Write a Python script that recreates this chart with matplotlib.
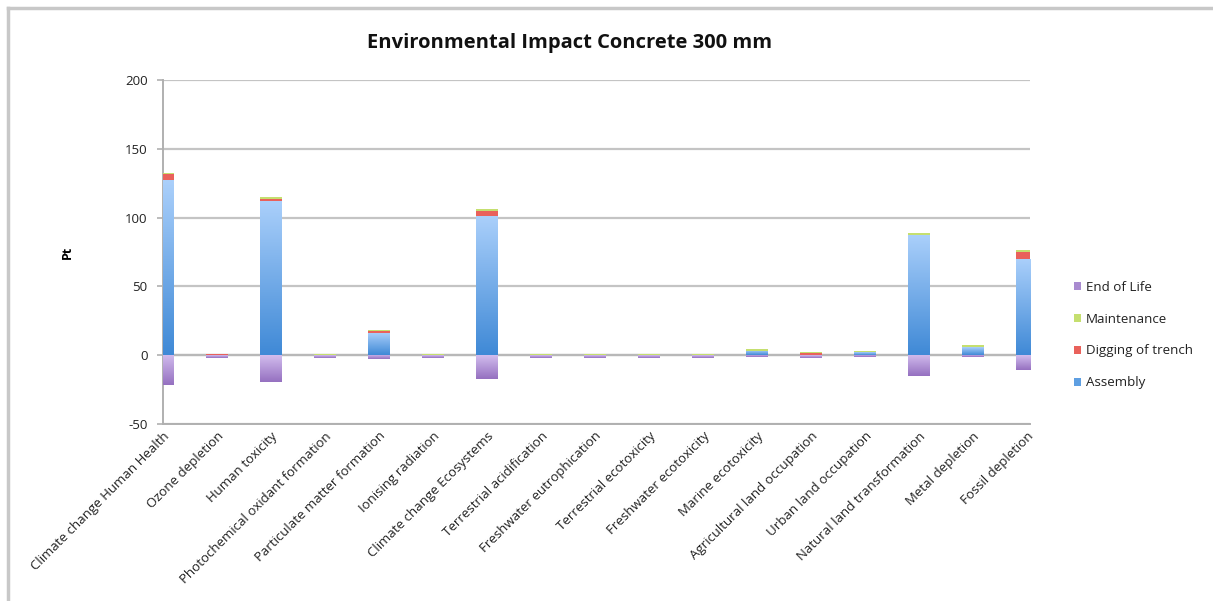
import numpy as np
import matplotlib
matplotlib.use("Agg")
import matplotlib.pyplot as plt
import matplotlib.transforms as mtransforms
from matplotlib.colors import LinearSegmentedColormap
from matplotlib.patches import Patch
from matplotlib.lines import Line2D

categories = ["Climate change Human Health", "Ozone depletion", "Human toxicity",
              "Photochemical oxidant formation", "Particulate matter formation",
              "Ionising radiation", "Climate change Ecosystems", "Terrestrial acidification",
              "Freshwater eutrophication", "Terrestrial ecotoxicity", "Freshwater ecotoxicity",
              "Marine ecotoxicity", "Agricultural land occupation", "Urban land occupation",
              "Natural land transformation", "Metal depletion", "Fossil depletion"]
assembly = [127, 0.2, 112, 0.2, 16.2, 0.2, 101.3, 0.2, 0.2, 0.2, 0.2, 3.1, 0.5, 2.0, 87.3, 5.6, 69.8]
digging = [4.5, 0.8, 1.7, 0.2, 1.5, 0.1, 3.4, 0.2, 0.1, 0.1, 0.1, 0.3, 0.8, 0.3, 0.3, 0.3, 5.4]
maintenance = [1.0, 0.2, 1.3, 0.6, 0.8, 0.5, 1.7, 0.6, 0.5, 0.5, 0.5, 1.3, 0.8, 0.8, 1.4, 1.4, 1.6]
end_of_life = [-22, -2, -19.4, -2, -3, -2, -17, -2, -2, -2, -2, -1.5, -2, -1.5, -15.3, -1.5, -10.5]
yticks = [-50, 0, 50, 100, 150, 200]

plt.rcParams['font.family'] = ['Open Sans', 'DejaVu Sans']

W, H = 1213, 601
fig = plt.figure(figsize=(W / 100, H / 100), dpi=100)
ax = fig.add_axes([163 / W, 1 - 424 / H, (1030 - 163) / W, (424 - 80) / H])

XMIN, XMAX = 0, 16.06
x = np.arange(len(categories))
bw = 0.4
a = np.array(assembly)
d = np.array(digging)
m = np.array(maintenance)
e = np.array(end_of_life)

c_blue_top, c_blue_bot = "#abd0fb", "#3f89d6"
c_purp_top, c_purp_bot = "#d2bdee", "#9570c0"
c_red = "#e9615b"
c_green = "#c5df6f"

b_a = ax.bar(x, a, bw, color="none", zorder=3)
b_d = ax.bar(x, d, bw, bottom=a, color=c_red, zorder=3)
b_m = ax.bar(x, m, bw, bottom=a + d, color=c_green, zorder=3)
b_e = ax.bar(x, e, bw, color="none", zorder=3)

grad = np.linspace(0, 1, 256).reshape(-1, 1)


def gradient_fill(bars, lo_color, hi_color):
    cmap = LinearSegmentedColormap.from_list("g", [lo_color, hi_color])
    for p in bars.patches:
        x0, y0 = p.get_x(), p.get_y()
        w, h = p.get_width(), p.get_height()
        ylo, yhi = min(y0, y0 + h), max(y0, y0 + h)
        xl, xr = max(x0, XMIN), min(x0 + w, XMAX)
        im = ax.imshow(grad, cmap=cmap, origin="lower", aspect="auto",
                       extent=[xl, xr, ylo, yhi], zorder=3, interpolation="bilinear")
        im.set_clip_path(p)


gradient_fill(b_a, c_blue_bot, c_blue_top)
gradient_fill(b_e, c_purp_bot, c_purp_top)

ax.set_xlim(XMIN, XMAX)
ax.set_ylim(-50, 200)
ax.set_yticks(yticks)
ax.set_yticklabels([str(v) for v in yticks], fontsize=9.5, color="#222222")
ax.tick_params(axis="y", length=4, width=1.2, color="#b0b0b0", pad=7)
ax.yaxis.grid(True, color="#c4c4c4", linewidth=1.6, zorder=1)
ax.set_axisbelow(True)
for s in ["top", "right"]:
    ax.spines[s].set_visible(False)
for s in ["left", "bottom"]:
    ax.spines[s].set_color("#b0b0b0")
    ax.spines[s].set_linewidth(1.4)
ax.axhline(0, color="#b8b8b8", linewidth=1.6, zorder=2)

ax.set_xticks(x)
ax.set_xticklabels(categories, rotation=45, ha="right", va="top",
                   rotation_mode="anchor", fontsize=9.5, color="#222222")
ax.tick_params(axis="x", length=0, pad=4)
offset = mtransforms.ScaledTranslation(0, 0, fig.dpi_scale_trans)
for lbl in ax.get_xticklabels():
    lbl.set_transform(lbl.get_transform() + offset)

ax.set_ylabel("Pt", fontsize=9, fontweight="bold")
ax.yaxis.set_label_coords(-(163 - 74) / (1030 - 163), 0.5)

fig.text(570 / W, 1 - 43 / H, "Environmental Impact Concrete 300 mm",
         ha="center", va="center", fontsize=14.5, fontweight="bold", color="#111111")

handles = [Patch(facecolor="#a98bd0", edgecolor="none"),
           Patch(facecolor=c_green, edgecolor="none"),
           Patch(facecolor=c_red, edgecolor="none"),
           Patch(facecolor="#5e9fe2", edgecolor="none")]
labels = ["End of Life", "Maintenance", "Digging of trench", "Assembly"]
leg = fig.legend(handles, labels, loc="center left",
                 bbox_to_anchor=(1062 / W, 1 - 335 / H), frameon=False,
                 fontsize=9.6, handlelength=0.55, handleheight=0.55,
                 handletextpad=0.35, labelspacing=1.42)
for t in leg.get_texts():
    t.set_color("#222222")

# chart frame (top and left edges visible)
fig.add_artist(Line2D([8 / W, 8 / W], [0, 1 - 8 / H], transform=fig.transFigure,
                      color="#c8c8c8", linewidth=2.5))
fig.add_artist(Line2D([8 / W, 1], [1 - 8 / H, 1 - 8 / H], transform=fig.transFigure,
                      color="#c8c8c8", linewidth=2.5))

fig.savefig("out.png", dpi=100)
